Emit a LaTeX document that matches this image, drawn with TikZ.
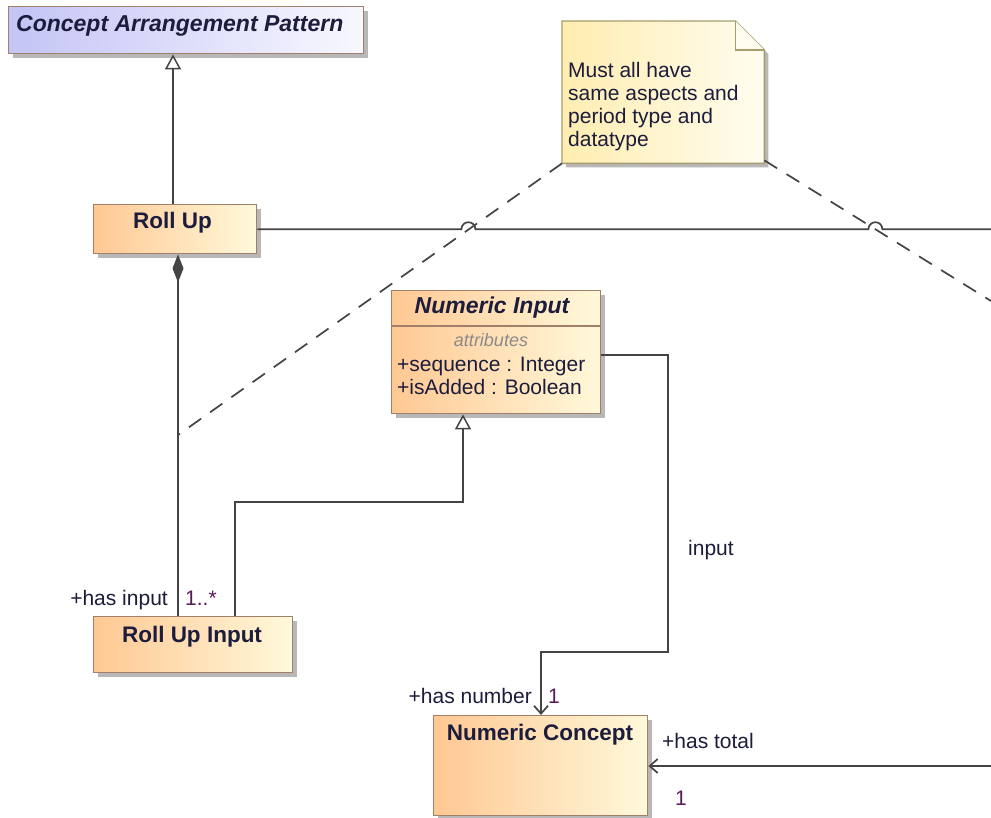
\documentclass[tikz,border=0pt]{standalone}
\usepackage{fontspec}
\setmainfont{Liberation Sans}
\usetikzlibrary{arrows.meta,shadows,calc}
\definecolor{lineC}{HTML}{444444}
\definecolor{boxB}{HTML}{A0806A}
\definecolor{orL}{HTML}{FFC893}
\definecolor{orR}{HTML}{FFF9DA}
\definecolor{lavL}{HTML}{C4C4F6}
\definecolor{lavR}{HTML}{F8F8FF}
\definecolor{noteL}{HTML}{FFEDB0}
\definecolor{noteR}{HTML}{FFFDF0}
\definecolor{noteB}{HTML}{A89C6C}
\definecolor{mult}{HTML}{5A1A5A}
\definecolor{txt}{HTML}{1C1C3C}
\definecolor{attrC}{HTML}{8A8A8A}
\definecolor{shadC}{HTML}{B8B8B8}
\begin{document}
\begin{tikzpicture}[x=1pt,y=-1pt,
  shad/.style={drop shadow={shadow xshift=4pt,shadow yshift=-4pt,fill=shadC,opacity=1}},
  cls/.style={draw=boxB, line width=1.4pt, left color=orL, right color=orR, inner sep=0pt, anchor=north west, shad},
  abscls/.style={cls, left color=lavL, right color=lavR},
  conn/.style={draw=lineC, line width=1.7pt},
  dsh/.style={draw=lineC, line width=1.7pt, dash pattern=on 15pt off 11pt},
  gen/.style={conn, -{Triangle[open,length=15pt,width=16pt,line width=1.5pt]}},
  assoc/.style={conn, -{Straight Barb[length=8pt,width=14pt]}},
  comp/.style={conn, {Diamond[length=28pt,width=11pt]}-},
  bt/.style={font=\fontsize{22.5}{25}\selectfont\bfseries, text=txt, inner sep=0pt},
  bit/.style={font=\fontsize{23}{25}\selectfont\bfseries\itshape, text=txt, inner sep=0pt},
  rt/.style={font=\fontsize{21}{23}\selectfont, text=txt, inner sep=0pt},
  mt/.style={font=\fontsize{21}{23}\selectfont, text=mult, inner sep=0pt},
  attrtxt/.style={font=\fontsize{18}{20}\selectfont\itshape, text=attrC, inner sep=0pt}
]
\useasboundingbox (0,0) rectangle (991,818);
\fill[white] (0,0) rectangle (991,818);

% classes
\node[abscls, minimum width=355pt, minimum height=47pt] (cap) at (8,6) {};
\node[bit, anchor=base west] (capT) at (16,32) {Concept Arrangement Pattern};

\node[cls, minimum width=163pt, minimum height=49pt] (rollup) at (93,204) {};
\node[bt, anchor=base] (rollupT) at (172.5,229) {Roll Up};

\node[cls, minimum width=209pt, minimum height=123pt] (numin) at (391,290) {};
\draw[draw=boxB, line width=1.4pt] (numin.west |- 0,326) coordinate (sepL) -- (numin.east |- 0,326) coordinate (sepR);
\node[bit, anchor=base] (numinT) at (492,314) {Numeric Input};
\node[attrtxt, anchor=base] (attrT) at (491,347) {attributes};
\node[rt, anchor=base west] (a1) at (397,372) {+sequence : Integer};
\node[rt, anchor=base west] (a2) at (397,395) {+isAdded : Boolean};

\node[cls, minimum width=199pt, minimum height=56pt] (rui) at (93,616) {};
\node[bt, anchor=base] (ruiT) at (192,642) {Roll Up Input};

\node[cls, minimum width=214pt, minimum height=100pt] (nc) at (433,715) {};
\node[bt, anchor=base] (ncT) at (540,740) {Numeric Concept};

% note
\node[minimum width=202pt, minimum height=142pt, inner sep=0pt, anchor=north west] (note) at (562,21) {};
\fill[shadC] ($(note.north west)+(4,4)$) -- ($(note.north east)+(-25,4)$) -- ($(note.north east)+(4,33)$) -- ($(note.south east)+(4,4)$) -- ($(note.south west)+(4,4)$) -- cycle;
\draw[draw=noteB, line width=1.4pt, left color=noteL, right color=noteR] (note.north west) -- ($(note.north east)+(-29,0)$) coordinate (fold1) -- ($(note.north east)+(0,29)$) coordinate (fold2) -- (note.south east) -- (note.south west) -- cycle;
\draw[draw=noteB, line width=1.4pt, fill=noteR] (fold1) -- (fold1 |- fold2) -- (fold2);
\node[rt, anchor=base west] (n1) at (568,78) {Must all have};
\node[rt, anchor=base west] (n2) at (568,101) {same aspects and};
\node[rt, anchor=base west] (n3) at (568,124) {period type and};
\node[rt, anchor=base west] (n4) at (568,147) {datatype};

% generalizations
\draw[gen] (rollup.north -| 173,0) -- (cap.south -| 173,0);
\draw[gen] (rui.north -| 235,0) -- (235,502) -- (463,502) -- (numin.south -| 463,0);

% composition
\coordinate (anch) at (178,435);
\draw[comp] (rollup.south -| anch) -- (rui.north -| anch);

% anchors of note (dashed)
\draw[dsh] (note.south west) -- (anch);
\coordinate (farR) at (991,301);
\draw[dsh] ($(note.south east)+(0,-3)$) -- (farR);

% roll up line to the right with hops
\coordinate (rEnd) at (991,0);
\draw[conn] (rollup.east) -- ++(204,0) arc[start angle=180,end angle=360,radius=7] -- ++(393,0) arc[start angle=180,end angle=360,radius=7] -- (rEnd |- rollup.east);

% associations
\draw[assoc] (numin.east |- 0,355) -- (668,355) -- (668,652) -- (541,652) -- (nc.north -| 541,0);
\node[rt, anchor=base west] (inputL) at (688,555) {input};
\coordinate (totR) at (991,766);
\draw[assoc] (totR) -- (nc.east |- totR);

% end labels
\node[rt, anchor=base east] (hasIn) at (168,605) {+has input};
\node[mt, anchor=base west] (m1) at (185,605) {1..*};
\node[rt, anchor=base east] (hasNum) at (532,703) {+has number};
\node[mt, anchor=base west] (m2) at (548,703) {1};
\node[rt, anchor=base west] (hasTot) at (662,748) {+has total};
\node[mt, anchor=base west] (m3) at (675,805) {1};
\end{tikzpicture}
\end{document}
